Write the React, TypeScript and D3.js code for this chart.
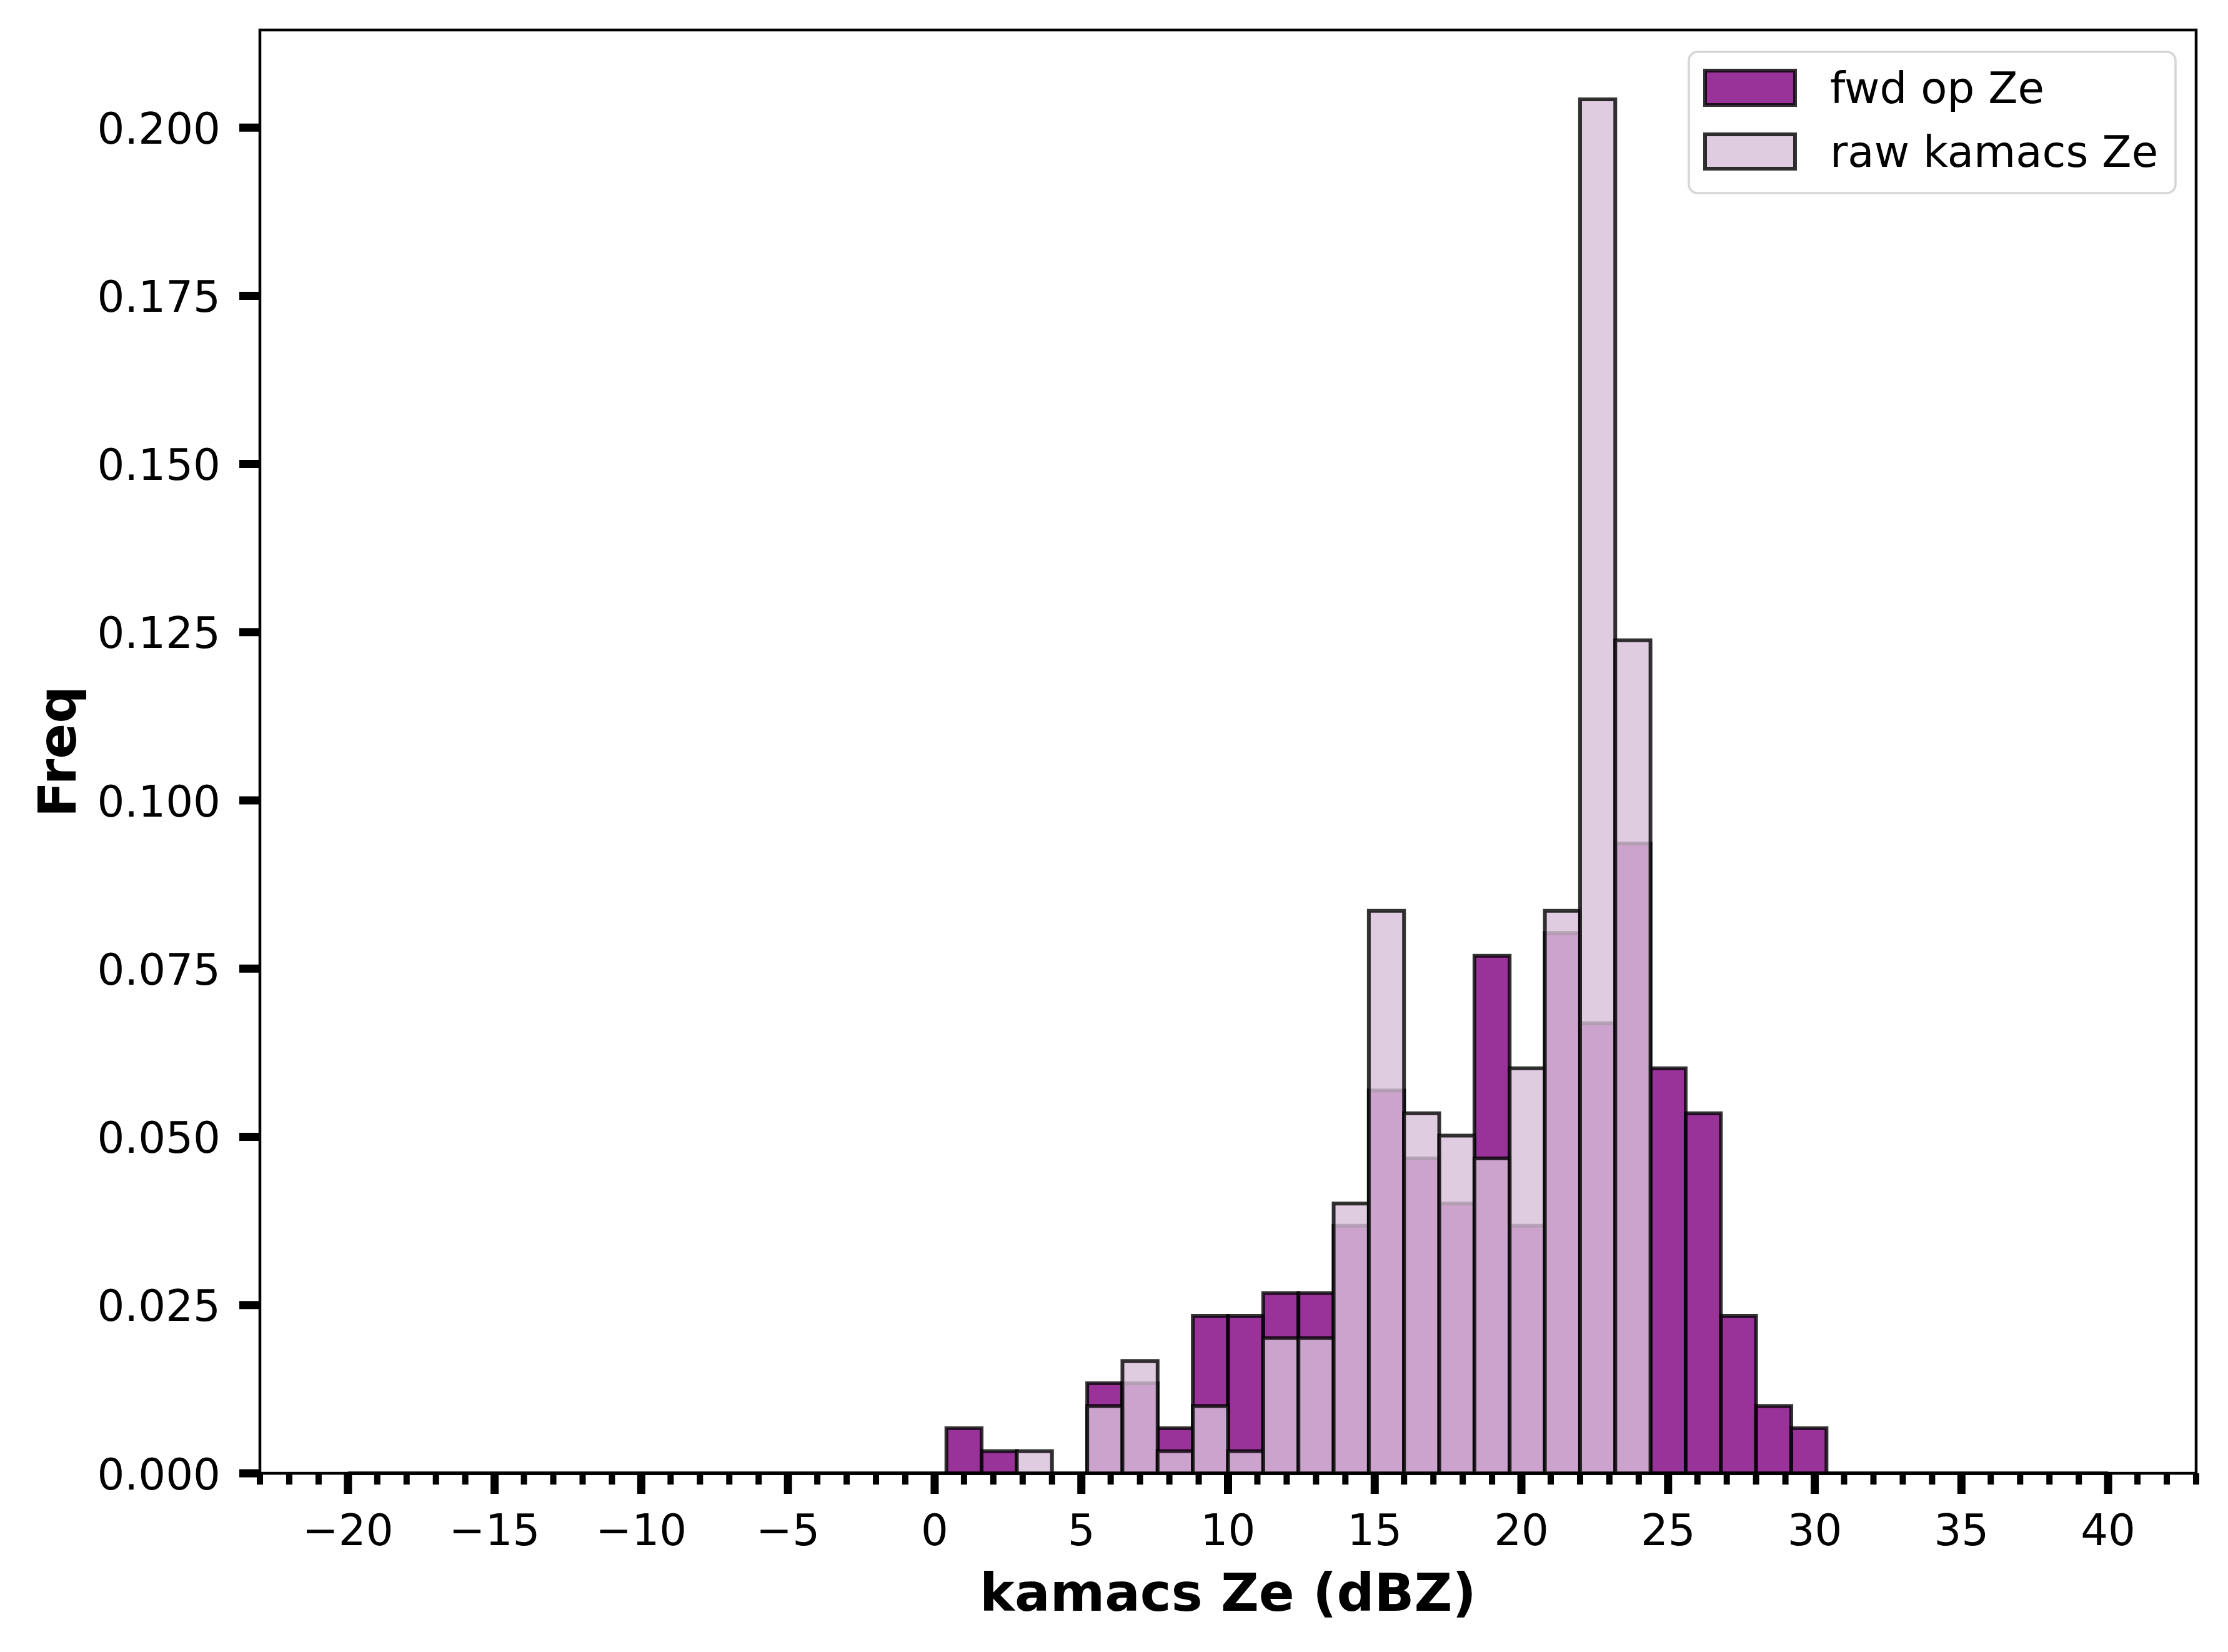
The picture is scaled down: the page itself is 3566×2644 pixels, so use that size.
import * as d3 from "d3";

const WIDTH = 3566;
const HEIGHT = 2644;
const PLOT = { left: 416, right: 3515, top: 48, bottom: 2358 };

// histogram bins: -20 .. 40, 50 bins of 1.2 dBZ
const binEdges = [
  -20, -18.8, -17.6, -16.4, -15.2, -14, -12.8, -11.6, -10.4, -9.2, -8, -6.8, -5.6,
  -4.4, -3.2, -2, -0.8, 0.4, 1.6, 2.8, 4, 5.2, 6.4, 7.6, 8.8, 10, 11.2, 12.4, 13.6,
  14.8, 16, 17.2, 18.4, 19.6, 20.8, 22, 23.2, 24.4, 25.6, 26.8, 28, 29.2, 30.4,
  31.6, 32.8, 34, 35.2, 36.4, 37.6, 38.8, 40,
];

// density per bin
const fwdFreq = [
  0, 0, 0, 0, 0, 0, 0, 0, 0, 0, 0, 0, 0, 0, 0, 0, 0,
  0.0067, 0.0033, 0, 0, 0.0134, 0.0134, 0.0067, 0.0234, 0.0234, 0.0268, 0.0268,
  0.0368, 0.0569, 0.0468, 0.0401, 0.0769, 0.0368, 0.0803, 0.0669, 0.0936, 0.0602,
  0.0535, 0.0234, 0.01, 0.0067,
  0, 0, 0, 0, 0, 0, 0, 0,
];
const rawFreq = [
  0, 0, 0, 0, 0, 0, 0, 0, 0, 0, 0, 0, 0, 0, 0, 0, 0,
  0, 0, 0.0033, 0, 0.01, 0.0167, 0.0033, 0.01, 0.0033, 0.0201, 0.0201,
  0.0401, 0.0836, 0.0535, 0.0502, 0.0468, 0.0602, 0.0836, 0.2042, 0.1238, 0,
  0, 0, 0, 0,
  0, 0, 0, 0, 0, 0, 0, 0,
];

const xMajorTicks = [-20, -15, -10, -5, 0, 5, 10, 15, 20, 25, 30, 35, 40];
const yTicks = [0, 0.025, 0.05, 0.075, 0.1, 0.125, 0.15, 0.175, 0.2];

const series = [
  { name: "fwd op Ze", values: fwdFreq, fill: "#800080" },
  { name: "raw kamacs Ze", values: rawFreq, fill: "#d8bfd8" },
];

const FONT = "'DejaVu Sans', sans-serif";

export default function App() {
  const xScale = d3.scaleLinear().domain([-23, 43]).range([PLOT.left, PLOT.right]);
  const yScale = d3.scaleLinear().domain([0, 0.2145]).range([PLOT.bottom, PLOT.top]);

  const xMinor = d3.range(-23, 44).filter((v) => !xMajorTicks.includes(v));
  const fmtX = (v: number) => (v < 0 ? "\u2212" + Math.abs(v) : String(v));

  const barPath = (i: number, v: number) => {
    const x0 = xScale(binEdges[i]);
    const x1 = xScale(binEdges[i + 1]);
    const y0 = yScale(0);
    const y1 = yScale(v);
    return `M${x0},${y0}V${y1}H${x1}V${y0}Z`;
  };

  return (
    <svg
      width={WIDTH}
      height={HEIGHT}
      style={{ position: "absolute", left: 0, top: 0, background: "#fff" }}
      fontFamily={FONT}
    >
      <rect width={WIDTH} height={HEIGHT} fill="#fff" />

      {/* bars */}
      {series.map((s) => (
        <g key={s.name}>
          {s.values.map((v, i) => (
            <path
              key={i}
              d={barPath(i, v)}
              fill={s.fill}
              fillOpacity={0.8}
              stroke="#000"
              strokeOpacity={0.8}
              strokeWidth={6}
              strokeLinejoin="miter"
            />
          ))}
        </g>
      ))}

      {/* spines */}
      <rect
        x={PLOT.left}
        y={PLOT.top}
        width={PLOT.right - PLOT.left}
        height={PLOT.bottom - PLOT.top}
        fill="none"
        stroke="#000"
        strokeWidth={4.5}
      />

      {/* x ticks */}
      {xMinor.map((v) => (
        <line
          key={"m" + v}
          x1={xScale(v)}
          x2={xScale(v)}
          y1={PLOT.bottom}
          y2={PLOT.bottom + 18}
          stroke="#000"
          strokeWidth={10}
        />
      ))}
      {xMajorTicks.map((v) => (
        <g key={"x" + v}>
          <line
            x1={xScale(v)}
            x2={xScale(v)}
            y1={PLOT.bottom}
            y2={PLOT.bottom + 33}
            stroke="#000"
            strokeWidth={13}
          />
          <text x={xScale(v)} y={2473} fontSize={69} textAnchor="middle" fill="#000">
            {fmtX(v)}
          </text>
        </g>
      ))}

      {/* y ticks */}
      {yTicks.map((v) => (
        <g key={"y" + v}>
          <line
            x1={PLOT.left - 33}
            x2={PLOT.left}
            y1={yScale(v)}
            y2={yScale(v)}
            stroke="#000"
            strokeWidth={13}
          />
          <text x={353} y={yScale(v) + 25.5} fontSize={69} textAnchor="end" fill="#000">
            {v.toFixed(3)}
          </text>
        </g>
      ))}

      {/* axis labels */}
      <text
        x={(PLOT.left + PLOT.right) / 2}
        y={2578}
        fontSize={84}
        fontWeight="bold"
        textAnchor="middle"
        fill="#000"
      >
        kamacs Ze (dBZ)
      </text>
      <text
        transform={`translate(121,${(PLOT.top + PLOT.bottom) / 2}) rotate(-90)`}
        fontSize={84}
        fontWeight="bold"
        textAnchor="middle"
        fill="#000"
      >
        Freq
      </text>

      {/* legend */}
      <g>
        <rect
          x={2703}
          y={83}
          width={779}
          height={226}
          rx={14}
          fill="#fff"
          fillOpacity={0.8}
          stroke="#d6d6d6"
          strokeWidth={3.5}
        />
        {series.map((s, i) => (
          <g key={s.name} transform={`translate(0,${i * 102})`}>
            <rect
              x={2729}
              y={113}
              width={144}
              height={55}
              fill={s.fill}
              fillOpacity={0.8}
              stroke="#000"
              strokeOpacity={0.8}
              strokeWidth={6}
            />
            <text x={2929} y={165} fontSize={69} fill="#000">
              {s.name}
            </text>
          </g>
        ))}
      </g>
    </svg>
  );
}
